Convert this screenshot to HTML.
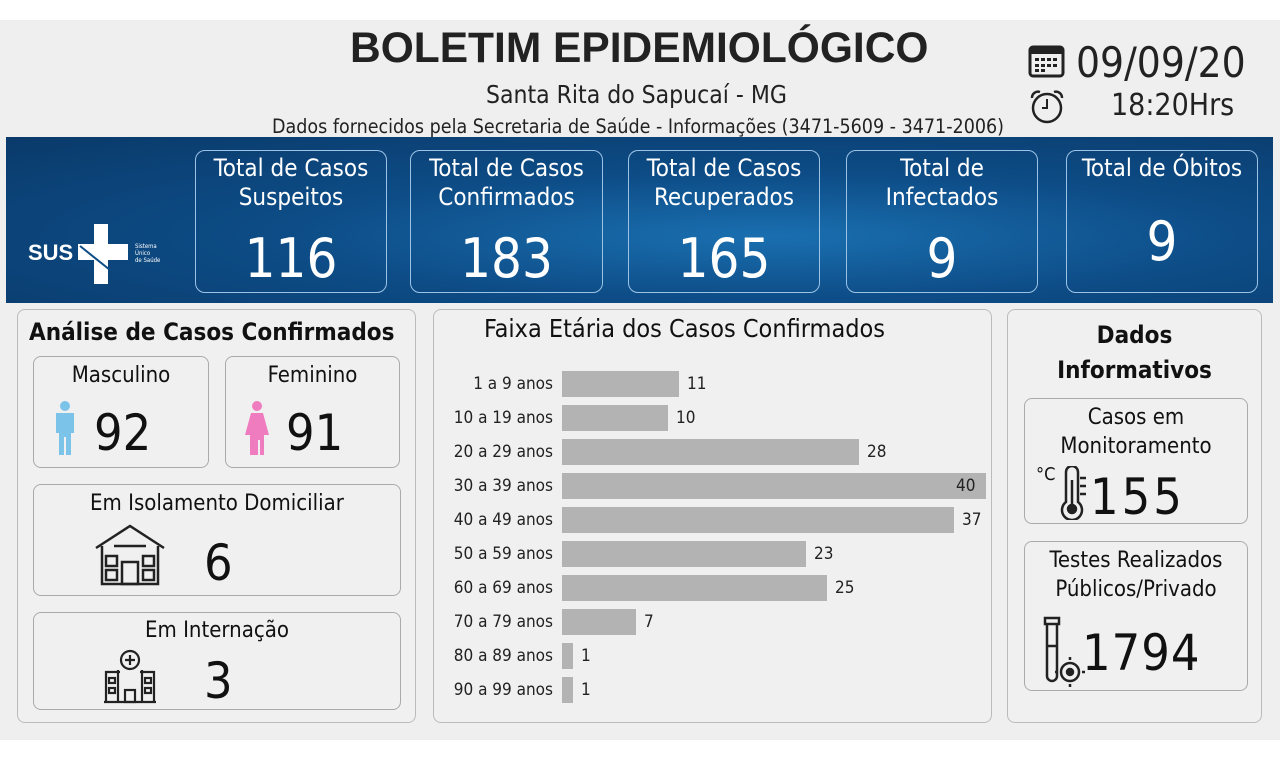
<!DOCTYPE html>
<html><head><meta charset="utf-8"><style>
*{margin:0;padding:0;box-sizing:border-box}
body{width:1280px;height:759px;background:#fff;font-family:"DejaVu Sans Condensed","Liberation Sans",sans-serif;position:relative;overflow:hidden;color:#111}
.a{position:absolute}
.bg{left:0;top:20px;width:1280px;height:720px;background:#efefef}
.banner{left:6px;top:137px;width:1267px;height:166px;background:radial-gradient(ellipse at 60% 60%,#1a6fb0 0%,#0d4c86 45%,#0a3a6a 100%)}
.card{border:1.5px solid #9cc3e6;border-radius:10px;color:#fff;text-align:center;font-size:24px;line-height:29px;padding-top:3px;font-weight:500}
.card .n{font-size:54px;line-height:60px;margin-top:17px}
.panel{border:1.5px solid #bbb;border-radius:8px;background:#f0f0f0}
.box{border:1.5px solid #aaa;border-radius:8px;background:#f0f0f0;text-align:center;font-size:22px}
.row{font-size:17px;color:#222}
.bar{background:#b3b3b3;height:26px}
</style></head><body>
<div class="a bg"></div>
<div class="a" style="left:350px;top:25px;font-family:'Liberation Sans',sans-serif;font-weight:bold;font-size:42.5px;color:#222">BOLETIM EPIDEMIOLÓGICO</div>
<div class="a" style="left:486px;top:80px;font-size:24.5px;color:#222">Santa Rita do Sapucaí - MG</div>
<div class="a" style="left:272px;top:115px;font-size:19.5px;color:#222">Dados fornecidos pela Secretaria de Saúde - Informações (3471-5609 - 3471-2006)</div>
<svg class="a" style="left:1028px;top:42px" width="38" height="36"><rect x="2" y="5" width="33" height="29" rx="3" fill="none" stroke="#222" stroke-width="3"/><rect x="2" y="5" width="33" height="7" fill="#222"/><g fill="#222"><rect x="7" y="16" width="4" height="3"/><rect x="13" y="16" width="4" height="3"/><rect x="19" y="16" width="4" height="3"/><rect x="25" y="16" width="4" height="3"/><rect x="7" y="22" width="4" height="3"/><rect x="13" y="22" width="4" height="3"/><rect x="19" y="22" width="4" height="3"/><rect x="25" y="22" width="4" height="3"/><rect x="7" y="27" width="4" height="3"/><rect x="13" y="27" width="4" height="3"/></g></svg>
<div class="a" style="left:1076px;top:38px;font-size:42px;color:#222">09/09/20</div>
<svg class="a" style="left:1028px;top:88px" width="38" height="38"><circle cx="19" cy="20" r="14" fill="none" stroke="#222" stroke-width="2.5"/><path d="M19 11v9h-5" stroke="#222" stroke-width="2" fill="none"/><path d="M4 10a6 6 0 0 1 8-6M34 10a6 6 0 0 0-8-6" stroke="#222" stroke-width="2.5" fill="none"/></svg>
<div class="a" style="left:1111px;top:88px;font-size:30px;color:#222">18:20Hrs</div>
<div class="a banner"></div>
<div class="a" style="left:28px;top:240px;color:#fff;font-weight:bold;font-size:22px;font-family:'Liberation Sans',sans-serif">SUS</div>
<svg class="a" style="left:76px;top:222px" width="56" height="64"><path d="M18 2h14v20h20v16H32v24H18V38H2V22h16z" fill="#fff"/><path d="M4 24l30 24" stroke="#0d4c86" stroke-width="2"/></svg>
<div class="a" style="left:135px;top:243px;color:#fff;font-size:6px;line-height:7px">Sistema<br>Único<br>de Saúde</div>
<div class="a card" style="left:195px;top:150px;width:192px;height:143px">Total de Casos<br>Suspeitos<div class="n">116</div></div>
<div class="a card" style="left:410px;top:150px;width:193px;height:143px">Total de Casos<br>Confirmados<div class="n">183</div></div>
<div class="a card" style="left:628px;top:150px;width:192px;height:143px">Total de Casos<br>Recuperados<div class="n">165</div></div>
<div class="a card" style="left:846px;top:150px;width:192px;height:143px">Total de<br>Infectados<div class="n">9</div></div>
<div class="a card" style="left:1066px;top:150px;width:192px;height:143px">Total de Óbitos<div class="n" style="margin-top:29px">9</div></div>

<div class="a panel" style="left:17px;top:309px;width:399px;height:414px"></div>
<div class="a" style="left:29px;top:318px;font-size:24px;font-weight:bold">Análise de Casos Confirmados</div>
<div class="a box" style="left:33px;top:356px;width:176px;height:112px"><div style="margin-top:6px">Masculino</div></div>
<svg class="a" style="left:52px;top:400px" width="26" height="56"><circle cx="13" cy="6" r="5" fill="#7cc3ea"/><path d="M4 13h18v20h-3v22h-5V37h-2v18H7V33H4z" fill="#7cc3ea"/></svg>
<div class="a" style="left:94px;top:404px;font-size:50px">92</div>
<div class="a box" style="left:225px;top:356px;width:175px;height:112px"><div style="margin-top:6px">Feminino</div></div>
<svg class="a" style="left:242px;top:400px" width="30" height="56"><circle cx="15" cy="6" r="5" fill="#f07cc0"/><path d="M9 13h12l6 22h-5v20h-4V40h-2v15H8V35H3z" fill="#f07cc0"/></svg>
<div class="a" style="left:286px;top:404px;font-size:50px">91</div>
<div class="a box" style="left:33px;top:484px;width:368px;height:112px"><div style="margin-top:6px">Em Isolamento Domiciliar</div></div>
<svg class="a" style="left:94px;top:522px" width="72" height="66" fill="none" stroke="#222" stroke-width="2.5"><path d="M2 26L36 4l34 22M8 24v38h56V24M20 24h32"/><rect x="28" y="40" width="16" height="22"/><rect x="12" y="34" width="11" height="10"/><rect x="49" y="34" width="11" height="10"/><rect x="12" y="48" width="11" height="10"/><rect x="49" y="48" width="11" height="10"/></svg>
<div class="a" style="left:204px;top:534px;font-size:50px">6</div>
<div class="a box" style="left:33px;top:612px;width:368px;height:98px"><div style="margin-top:5px">Em Internação</div></div>
<svg class="a" style="left:102px;top:648px" width="56" height="56" fill="none" stroke="#222" stroke-width="2.2"><circle cx="28" cy="12" r="9"/><path d="M28 7v10M23 12h10M4 54V24h14M52 54V24H38M16 54V22M40 54V22M2 54h52"/><rect x="23" y="42" width="10" height="12"/><rect x="7" y="30" width="6" height="5"/><rect x="43" y="30" width="6" height="5"/><rect x="7" y="40" width="6" height="5"/><rect x="43" y="40" width="6" height="5"/></svg>
<div class="a" style="left:204px;top:652px;font-size:50px">3</div>

<div class="a panel" style="left:433px;top:309px;width:559px;height:414px"></div>
<div class="a" style="left:484px;top:314px;font-size:25px">Faixa Etária dos Casos Confirmados</div>
<div class="a" style="left:440px;top:371px;width:560px">
<div style="position:relative;height:340px">
<div class="a row" style="left:0;top:3px;width:113px;text-align:right">1 a 9 anos</div><div class="a bar" style="left:122px;top:0;width:117px"></div><div class="a row" style="left:247px;top:3px">11</div>
<div class="a row" style="left:0;top:37px;width:113px;text-align:right">10 a 19 anos</div><div class="a bar" style="left:122px;top:34px;width:106px"></div><div class="a row" style="left:236px;top:37px">10</div>
<div class="a row" style="left:0;top:71px;width:113px;text-align:right">20 a 29 anos</div><div class="a bar" style="left:122px;top:68px;width:297px"></div><div class="a row" style="left:427px;top:71px">28</div>
<div class="a row" style="left:0;top:105px;width:113px;text-align:right">30 a 39 anos</div><div class="a bar" style="left:122px;top:102px;width:424px"></div><div class="a row" style="left:516px;top:105px">40</div>
<div class="a row" style="left:0;top:139px;width:113px;text-align:right">40 a 49 anos</div><div class="a bar" style="left:122px;top:136px;width:392px"></div><div class="a row" style="left:522px;top:139px">37</div>
<div class="a row" style="left:0;top:173px;width:113px;text-align:right">50 a 59 anos</div><div class="a bar" style="left:122px;top:170px;width:244px"></div><div class="a row" style="left:374px;top:173px">23</div>
<div class="a row" style="left:0;top:207px;width:113px;text-align:right">60 a 69 anos</div><div class="a bar" style="left:122px;top:204px;width:265px"></div><div class="a row" style="left:395px;top:207px">25</div>
<div class="a row" style="left:0;top:241px;width:113px;text-align:right">70 a 79 anos</div><div class="a bar" style="left:122px;top:238px;width:74px"></div><div class="a row" style="left:204px;top:241px">7</div>
<div class="a row" style="left:0;top:275px;width:113px;text-align:right">80 a 89 anos</div><div class="a bar" style="left:122px;top:272px;width:11px"></div><div class="a row" style="left:141px;top:275px">1</div>
<div class="a row" style="left:0;top:309px;width:113px;text-align:right">90 a 99 anos</div><div class="a bar" style="left:122px;top:306px;width:11px"></div><div class="a row" style="left:141px;top:309px">1</div>
</div></div>

<div class="a panel" style="left:1007px;top:309px;width:255px;height:414px"></div>
<div class="a" style="left:1007px;top:318px;width:255px;text-align:center;font-size:24px;font-weight:bold;line-height:35px">Dados<br>Informativos</div>
<div class="a box" style="left:1024px;top:398px;width:224px;height:126px;line-height:29px"><div style="margin-top:4px">Casos em<br>Monitoramento</div></div>
<div class="a" style="left:1036px;top:464px;font-size:18px">°C</div>
<svg class="a" style="left:1060px;top:466px" width="30" height="54" fill="none" stroke="#222" stroke-width="2.5"><path d="M6 36V6a6 6 0 0 1 12 0v30a10 10 0 1 1-12 0z"/><circle cx="12" cy="43" r="4" fill="#222"/><path d="M12 40V14M20 12h6M20 20h6M20 28h6"/></svg>
<div class="a" style="left:1090px;top:468px;font-size:50px;letter-spacing:3px">155</div>
<div class="a box" style="left:1024px;top:541px;width:224px;height:150px;line-height:29px"><div style="margin-top:4px">Testes Realizados<br>Públicos/Privado</div></div>
<svg class="a" style="left:1042px;top:616px" width="44" height="74" fill="none" stroke="#222" stroke-width="2.5"><rect x="3" y="2" width="14" height="6"/><path d="M5 8v52a5 5 0 0 0 10 0V8M5 30h10"/><circle cx="28" cy="56" r="9"/><circle cx="28" cy="56" r="3" fill="#222"/><path d="M28 44v-3M28 68v3M16 56h-3M40 56h3"/></svg>
<div class="a" style="left:1082px;top:624px;font-size:50px;letter-spacing:1px">1794</div>
</body></html>
